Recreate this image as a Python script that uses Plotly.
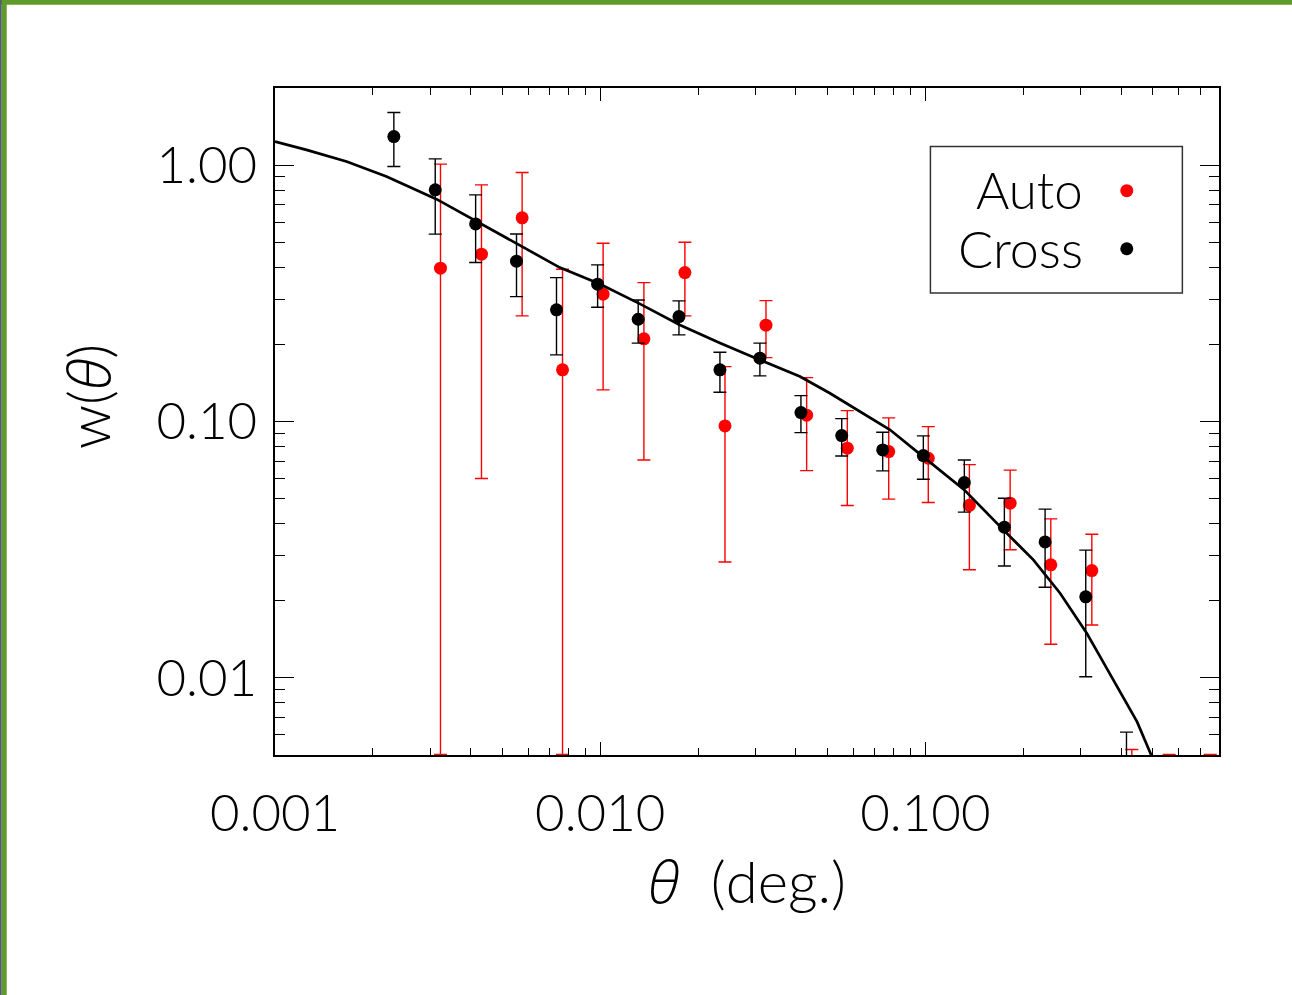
import math
import plotly.graph_objects as go

# Cross-correlation w(theta): angle (deg), value, upper and lower 1-sigma bounds
theta_cross = [0.00232, 0.00311, 0.00414, 0.00553, 0.00734, 0.00982, 0.01309, 0.01747,
               0.02335, 0.03099, 0.04144, 0.05532, 0.07394, 0.0986, 0.1318, 0.175,
               0.2335, 0.3114, 0.4155]
w_cross = [1.293, 0.801, 0.590, 0.422, 0.2726, 0.3434, 0.2506, 0.2566,
           0.159, 0.1766, 0.1083, 0.0881, 0.0775, 0.0736, 0.0578, 0.0387,
           0.0339, 0.0207, 0.0035]
cross_hi = [1.604, 1.058, 0.766, 0.539, 0.3641, 0.4083, 0.298, 0.2954,
            0.1864, 0.2021, 0.1262, 0.1026, 0.0908, 0.0879, 0.0708, 0.0502,
            0.0455, 0.0315, 0.00614]
cross_lo = [0.9875, 0.538, 0.417, 0.307, 0.1819, 0.2792, 0.2021, 0.2178,
            0.1301, 0.1506, 0.0905, 0.0734, 0.0642, 0.0595, 0.0443, 0.0273,
            0.02257, 0.0101, 0.002]

# Auto-correlation w(theta)
theta_auto = [0.003228, 0.004315, 0.005754, 0.00766, 0.01021, 0.01363, 0.01822, 0.0242,
              0.03235, 0.04315, 0.05754, 0.07716, 0.1021, 0.1366, 0.1823, 0.2431,
              0.3251, 0.4315, 0.562, 0.7516]
w_auto = [0.3963, 0.4496, 0.6229, 0.159, 0.3139, 0.2101, 0.381, 0.0961,
          0.2376, 0.1058, 0.0787, 0.0763, 0.0719, 0.0471, 0.048, 0.0276,
          0.0262, 0.003, 0.002, 0.002]
auto_hi = [1.009, 0.838, 0.9357, 0.3928, 0.4962, 0.3483, 0.5006, 0.1637,
           0.2962, 0.1483, 0.1103, 0.1033, 0.0955, 0.0679, 0.0646, 0.0417,
           0.0363, 0.00525, 0.00502, 0.00502]
auto_lo = [0.00502, 0.0599, 0.2582, 0.00502, 0.1328, 0.0708, 0.2582, 0.0283,
           0.1775, 0.0643, 0.047, 0.0498, 0.0483, 0.0264, 0.0316, 0.01353,
           0.01608, 0.001, 0.001, 0.001]

# Model curve
model_theta = [0.001, 0.00125, 0.001659, 0.002202, 0.003138, 0.004165, 0.005659, 0.007516,
               0.009979, 0.01325, 0.01759, 0.02335, 0.03099, 0.04116, 0.05089, 0.06297,
               0.07785, 0.0986, 0.1318, 0.1738, 0.2149, 0.2597, 0.3137, 0.3447,
               0.448, 0.4949, 0.56]
model_w = [1.236, 1.147, 1.033, 0.9027, 0.7369, 0.6025, 0.4857, 0.3986,
           0.3441, 0.2876, 0.2381, 0.2026, 0.1739, 0.1497, 0.1289, 0.1093,
           0.0928, 0.0728, 0.0541, 0.03776, 0.02884, 0.02138, 0.01493, 0.0121,
           0.00673, 0.005, 0.003]

x_tick_vals = [0.001, 0.01, 0.1]
x_tick_text = ["0.001", "0.010", "0.100"]
y_tick_vals = [0.01, 0.1, 1.0]
y_tick_text = ["0.01", "0.10", "1.00"]

FONT = "Lato"
WEIGHT = 300
GREEN = "#5e9b2a"
THETA = ("<span style='font-family:Open Sans;font-weight:300;font-style:italic'>"
         "θ</span>")


def err(vals, hi, lo):
    return ([h - v for v, h in zip(vals, hi)], [v - l for v, l in zip(vals, lo)])


fig = go.Figure()

a_plus, a_minus = err(w_auto, auto_hi, auto_lo)
fig.add_trace(go.Scatter(
    x=theta_auto, y=w_auto, mode="markers", name="Auto",
    marker=dict(color="#ff0000", size=13, line=dict(width=0)),
    error_y=dict(type="data", symmetric=False, array=a_plus, arrayminus=a_minus,
                 color="#ff0000", thickness=1.4, width=6.5),
    showlegend=False))

c_plus, c_minus = err(w_cross, cross_hi, cross_lo)
fig.add_trace(go.Scatter(
    x=theta_cross, y=w_cross, mode="markers", name="Cross",
    marker=dict(color="#000000", size=13, line=dict(width=0)),
    error_y=dict(type="data", symmetric=False, array=c_plus, arrayminus=c_minus,
                 color="#000000", thickness=1.4, width=6.5),
    showlegend=False))

fig.add_trace(go.Scatter(
    x=model_theta, y=model_w, mode="lines",
    line=dict(color="#000000", width=2.7), showlegend=False))


def minor_vals(lo_exp, hi_exp):
    return [m * 10.0 ** e for e in range(lo_exp, hi_exp) for m in range(2, 10)]


axis_common = dict(
    type="log", showgrid=False, zeroline=False,
    showline=True, linecolor="#000000", linewidth=1.5,
    mirror="allticks", ticks="inside", tickcolor="#000000", tickwidth=1.3,
    tickfont=dict(family=FONT, size=51, color="#000000", weight=WEIGHT),
)

fig.update_xaxes(
    **axis_common,
    range=[-3, math.log10(0.8)],
    tickmode="array", tickvals=x_tick_vals, ticktext=x_tick_text,
    ticklen=13, ticklabelstandoff=13,
    minor=dict(tickmode="array", tickvals=minor_vals(-3, 0), ticks="inside",
               ticklen=7, tickwidth=1.2, tickcolor="#000000", showgrid=False),
)
fig.update_yaxes(
    **axis_common,
    range=[math.log10(0.005), math.log10(2.0)],
    tickmode="array", tickvals=y_tick_vals, ticktext=y_tick_text,
    ticklen=19, ticklabelstandoff=6,
    minor=dict(tickmode="array", tickvals=minor_vals(-3, 1), ticks="inside",
               ticklen=10, tickwidth=1.2, tickcolor="#000000", showgrid=False),
)

annotations = [
    dict(text=THETA + "  (deg.)", x=0.5, y=-0.1875, xref="paper", yref="paper",
         xanchor="center", yanchor="middle", showarrow=False,
         font=dict(family=FONT, size=58, color="#000000", weight=WEIGHT)),
    dict(text="w(" + THETA + ")", x=-0.199, y=0.538, xref="paper", yref="paper",
         xanchor="center", yanchor="middle", showarrow=False, textangle=-90,
         font=dict(family=FONT, size=58, color="#000000", weight=WEIGHT)),
    dict(text="Auto", x=0.858, y=0.8475, xref="paper", yref="paper",
         xanchor="right", yanchor="middle", showarrow=False,
         font=dict(family=FONT, size=51, color="#000000", weight=WEIGHT)),
    dict(text="Cross", x=0.858, y=0.7605, xref="paper", yref="paper",
         xanchor="right", yanchor="middle", showarrow=False,
         font=dict(family=FONT, size=52, color="#000000", weight=WEIGHT)),
]

shapes = [
    # legend frame
    dict(type="rect", xref="paper", yref="paper", x0=0.6943, x1=0.9612,
         y0=0.6925, y1=0.9124, line=dict(color="#333333", width=1.5)),
    # legend symbols
    dict(type="circle", xref="paper", yref="paper", xsizemode="pixel", ysizemode="pixel",
         xanchor=0.9023, yanchor=0.846, x0=-6.5, x1=6.5, y0=-6.5, y1=6.5,
         fillcolor="#ff0000", line=dict(width=0)),
    dict(type="circle", xref="paper", yref="paper", xsizemode="pixel", ysizemode="pixel",
         xanchor=0.9023, yanchor=0.759, x0=-6.5, x1=6.5, y0=-6.5, y1=6.5,
         fillcolor="#000000", line=dict(width=0)),
    # page border
    dict(type="rect", xref="paper", yref="paper", ysizemode="pixel", yanchor=1,
         x0=-0.4, x1=1.2, y0=83.3, y1=100, fillcolor=GREEN, line=dict(width=0), layer="above"),
    dict(type="rect", xref="paper", yref="paper", xsizemode="pixel", xanchor=0,
         x0=-273.3, x1=-268.3, y0=-0.5, y1=1.3, fillcolor=GREEN, line=dict(width=0), layer="above"),
    dict(type="rect", xref="paper", yref="paper", xsizemode="pixel", xanchor=0,
         x0=-285, x1=-273.3, y0=-0.5, y1=1.3, fillcolor="#4f5d6e", line=dict(width=0), layer="above"),
]

fig.update_layout(
    width=1292, height=995,
    margin=dict(l=275, r=73, t=88, b=240, pad=0),
    paper_bgcolor="#ffffff", plot_bgcolor="#ffffff",
    annotations=annotations, shapes=shapes,
    showlegend=False,
)

fig.write_html("out.html")
